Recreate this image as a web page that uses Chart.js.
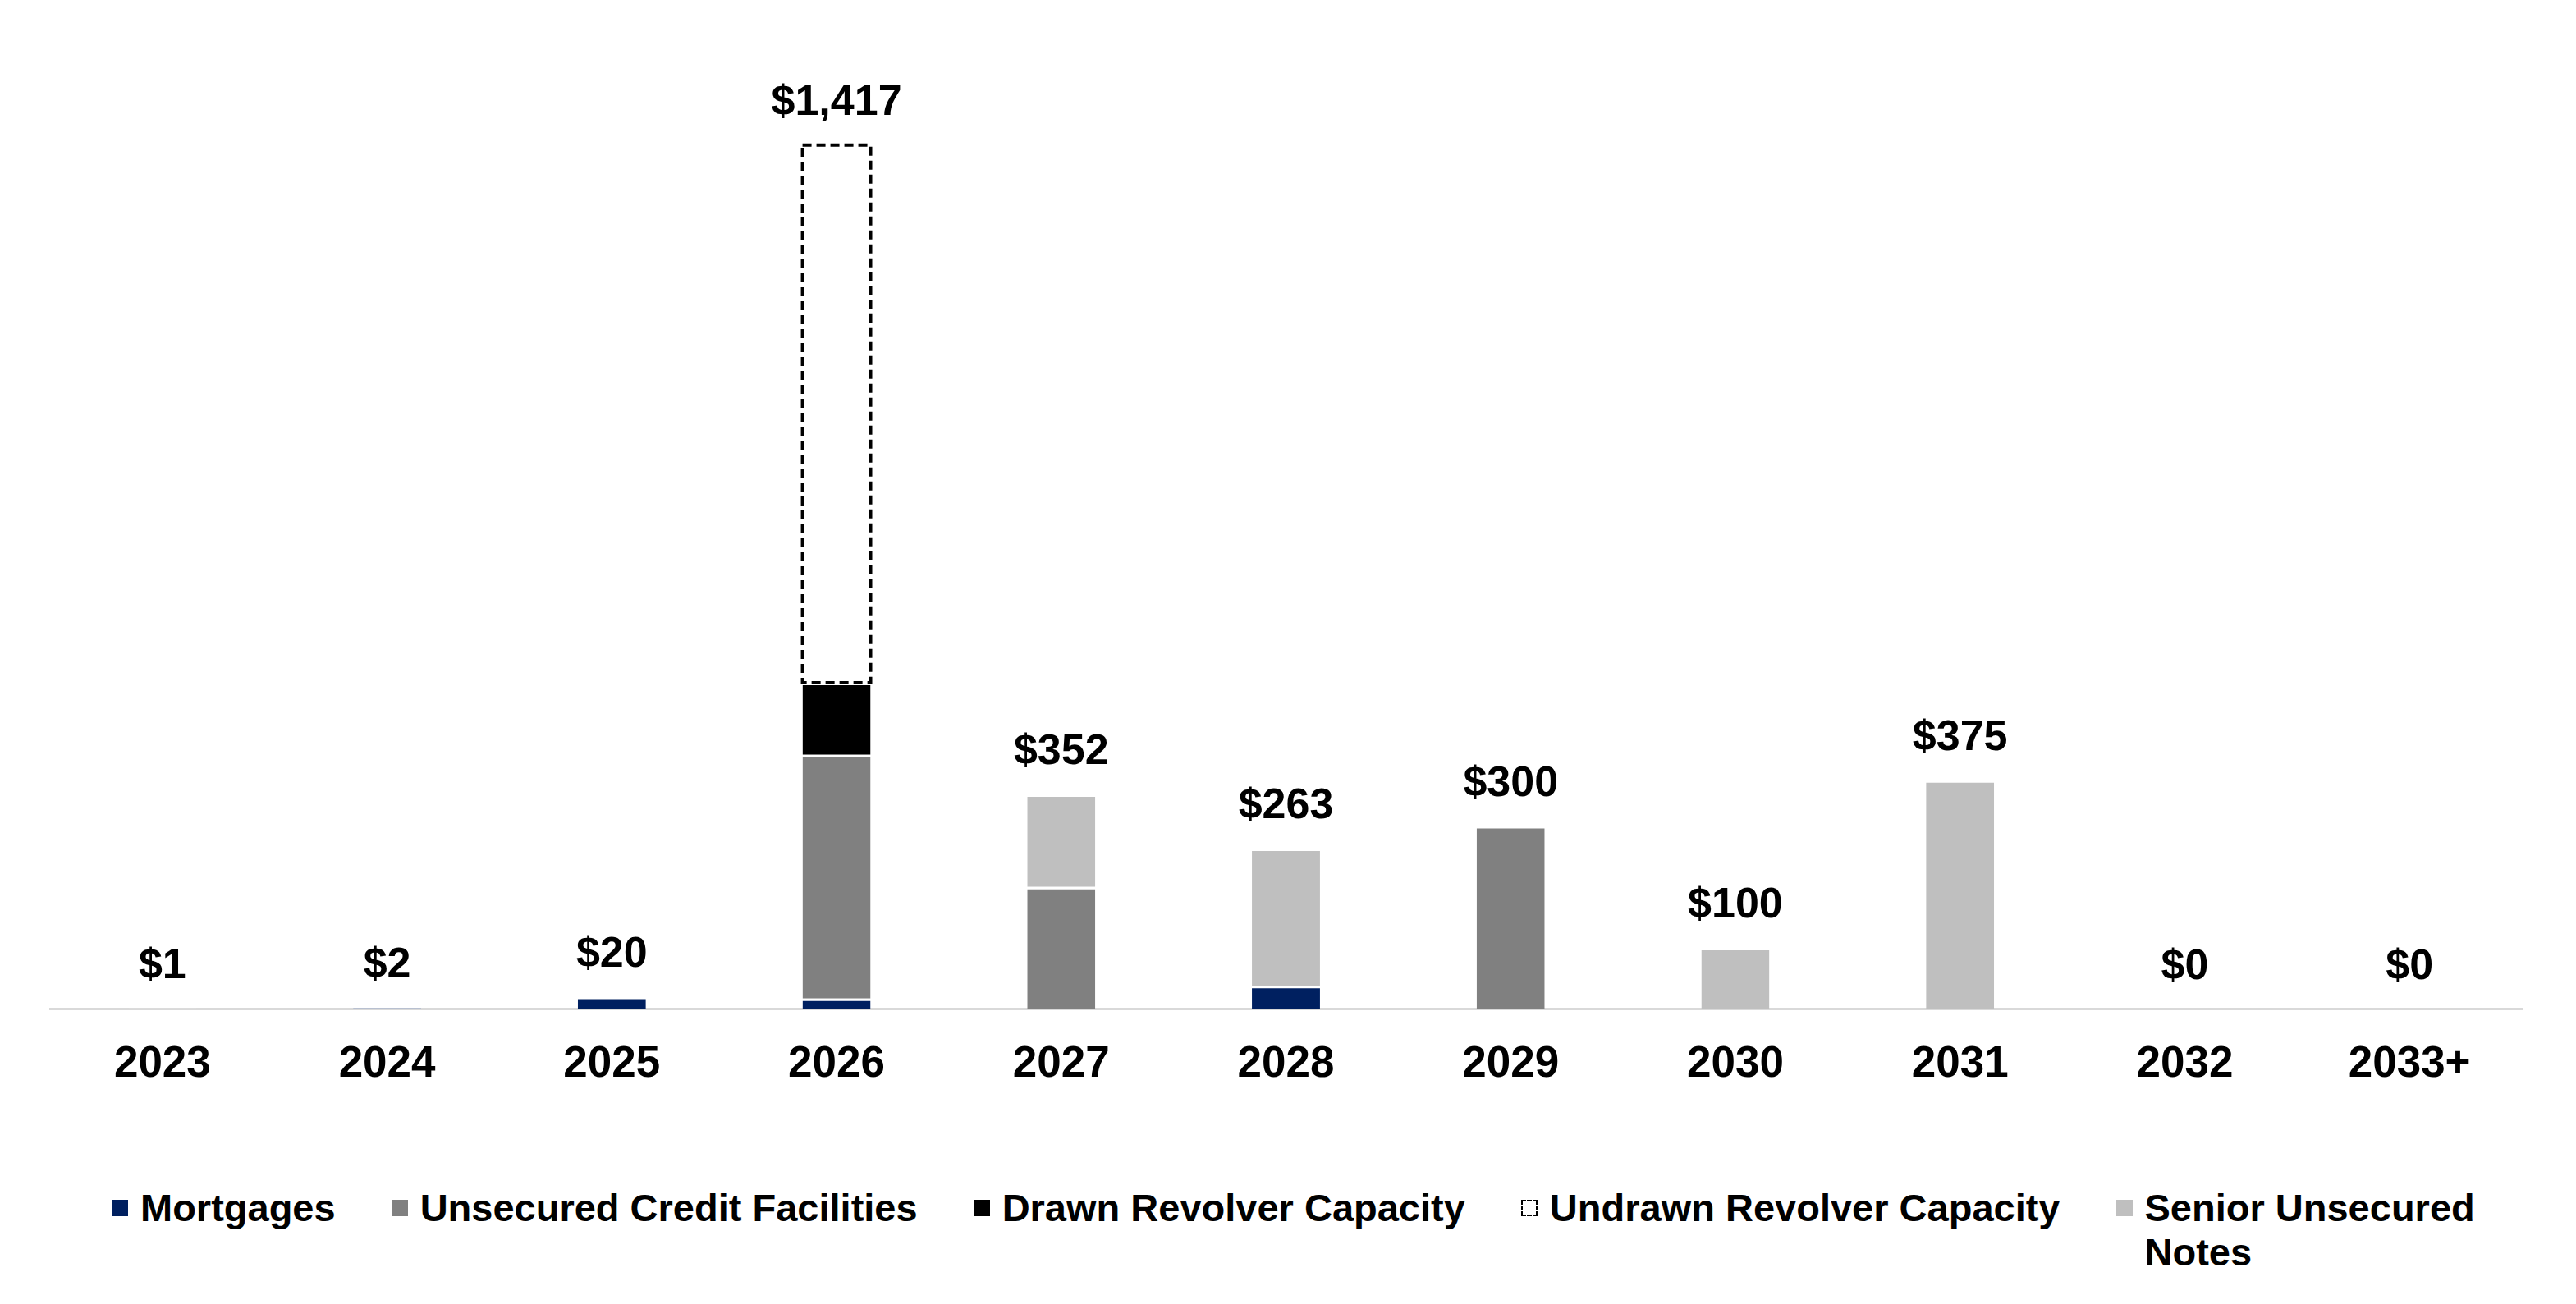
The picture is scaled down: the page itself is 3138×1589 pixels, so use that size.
<!DOCTYPE html>
<html>
<head>
<meta charset="utf-8">
<script src="https://cdn.jsdelivr.net/npm/chart.js@4"></script>
<style>
    body { margin: 0; background: #fff; }
    #wrap { position: relative; width: 3138px; height: 1589px; font-family: "Liberation Sans", Arial, sans-serif; }
    #legend {
        position: absolute; left: 136px; top: 1445px;
        display: flex; align-items: flex-start; gap: 68px;
        font-weight: bold; font-size: 47px; line-height: 54px; color: #000;
    }
    .item { display: flex; align-items: flex-start; }
    .box { width: 20px; height: 20px; margin-top: 17px; margin-right: 15px; box-sizing: border-box; }
</style>
</head>
<body>
<div id="wrap">
    <canvas id="chart" width="3138" height="1400"></canvas>
    <div id="legend"></div>
</div>
<script>
// Debt maturity schedule ($ millions)
const years = ['2023', '2024', '2025', '2026', '2027', '2028', '2029', '2030', '2031', '2032', '2033+'];
const mortgages        = [1, 2, 20, 17, 0, 38, 0, 0, 0, 0, 0];
const unsecuredCredit  = [0, 0, 0, 400, 200, 0, 300, 0, 0, 0, 0];
const drawnRevolver    = [0, 0, 0, 118, 0, 0, 0, 0, 0, 0, 0];
const undrawnRevolver  = [0, 0, 0, 882, 0, 0, 0, 0, 0, 0, 0];
const seniorNotes      = [0, 0, 0, 0, 152, 225, 0, 100, 375, 0, 0];

const seriesNames = ['Mortgages', 'Unsecured Credit Facilities', 'Drawn Revolver Capacity', 'Undrawn Revolver Capacity', 'Senior Unsecured Notes'];
const seriesColors = ['#002060', '#808080', '#000000', '#ffffff', '#BFBFBF'];
const seriesData = [mortgages, unsecuredCredit, drawnRevolver, undrawnRevolver, seniorNotes];

const totals = years.map((y, i) => seriesData.reduce((s, d) => s + d[i], 0));

function fmtTotal(v) {
    return '$' + Math.round(v).toLocaleString('en-US');
}

// dashed outline for undrawn capacity + total labels above the bars
const barExtras = {
    id: 'barExtras',
    afterDatasetsDraw(chart) {
        const ctx = chart.ctx;
        const meta = chart.getDatasetMeta(3);
        ctx.save();
        ctx.strokeStyle = '#000';
        ctx.lineWidth = 4;
        ctx.setLineDash([11, 6]);
        meta.data.forEach((bar, i) => {
            if (!undrawnRevolver[i]) return;
            const p = bar.getProps(['x', 'y', 'base', 'width'], true);
            ctx.strokeRect(p.x - p.width / 2, p.y, p.width, p.base - p.y);
        });
        ctx.restore();

        ctx.save();
        ctx.font = 'bold 52px "Liberation Sans", Arial, sans-serif';
        ctx.fillStyle = '#000';
        ctx.textAlign = 'center';
        ctx.textBaseline = 'middle';
        const xs = chart.scales.x, ys = chart.scales.y;
        totals.forEach((t, i) => {
            ctx.fillText(fmtTotal(t), xs.getPixelForValue(i), ys.getPixelForValue(t) - 51);
        });
        ctx.restore();
    }
};

new Chart(document.getElementById('chart'), {
    type: 'bar',
    data: {
        labels: years,
        datasets: seriesData.map((d, i) => ({
            label: seriesNames[i],
            data: d,
            backgroundColor: seriesColors[i],
            borderColor: '#ffffff',
            borderWidth: { top: 3, right: 0, bottom: 0, left: 0 },
            borderSkipped: false,
            barPercentage: 0.303,
            categoryPercentage: 1
        }))
    },
    options: {
        responsive: false,
        animation: false,
        layout: { padding: { top: 0, left: 61, right: 66, bottom: 35 } },
        plugins: {
            legend: { display: false },
            tooltip: { enabled: false }
        },
        scales: {
            x: {
                stacked: true,
                grid: { display: false, drawTicks: false },
                border: { display: true, color: '#D9D9D9', width: 3 },
                ticks: {
                    color: '#000',
                    padding: 36,
                    font: { family: '"Liberation Sans", Arial, sans-serif', size: 53, weight: 'bold' }
                }
            },
            y: {
                stacked: true,
                display: false,
                min: 0,
                max: 1655
            }
        }
    },
    plugins: [barExtras]
});

// legend (HTML so the last label can wrap onto two lines)
const legend = document.getElementById('legend');
seriesNames.forEach((name, i) => {
    const item = document.createElement('div');
    item.className = 'item';
    const box = document.createElement('div');
    box.className = 'box';
    if (i === 3) {
        box.style.border = '2px dashed #000';
        box.style.background = '#fff';
    } else {
        box.style.background = seriesColors[i];
    }
    const text = document.createElement('div');
    text.innerHTML = name === 'Senior Unsecured Notes' ? 'Senior Unsecured<br>Notes' : name;
    item.appendChild(box);
    item.appendChild(text);
    legend.appendChild(item);
});
</script>
</body>
</html>
